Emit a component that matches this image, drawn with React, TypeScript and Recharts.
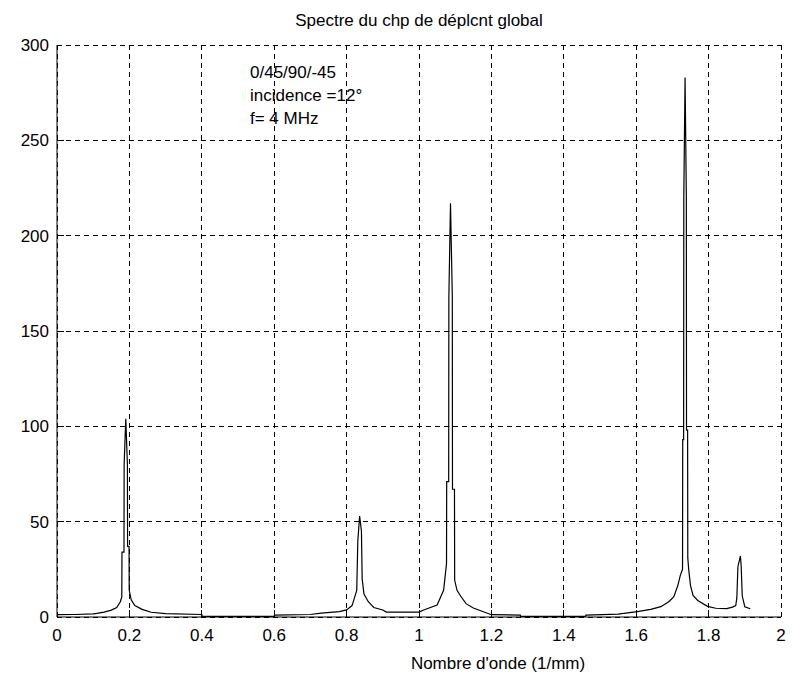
import React from 'react'
import {
  LineChart,
  Line,
  XAxis,
  YAxis,
  CartesianGrid
} from 'recharts'

// wave number (1/mm) and amplitude
const waveNumber = [
  0, 0.05, 0.1, 0.11, 0.13, 0.15, 0.165, 0.175, 0.179, 0.1795, 0.185, 0.1855, 0.19, 0.1945, 0.195,
  0.199, 0.1995, 0.205, 0.215, 0.235, 0.26, 0.3, 0.4, 0.401, 0.6, 0.601, 0.7, 0.73, 0.78, 0.8,
  0.815, 0.82, 0.828, 0.831, 0.836, 0.841, 0.843, 0.848, 0.86, 0.875, 0.9, 0.91, 1.0, 1.013, 1.05,
  1.068, 1.076, 1.0765, 1.082, 1.0825, 1.087, 1.092, 1.0925, 1.098, 1.0985, 1.105, 1.115, 1.13, 1.15, 1.2,
  1.28, 1.281, 1.46, 1.461, 1.55, 1.603, 1.64, 1.668, 1.69, 1.704, 1.715, 1.722, 1.728, 1.7285, 1.731,
  1.7315, 1.735, 1.7385, 1.739, 1.742, 1.7425, 1.745, 1.75, 1.757, 1.77, 1.797, 1.82, 1.85, 1.866, 1.875,
  1.878, 1.881, 1.888, 1.89, 1.893, 1.9, 1.915
]
const amplitude = [
  1.2, 1.3, 1.6, 1.9, 2.6, 3.6, 5, 8, 10.6, 34, 34, 80, 104, 80, 37,
  37, 14, 9, 6, 4, 2.5, 1.8, 1.3, 0.3, 0.3, 1.0, 1.3, 2, 2.8, 3.7,
  6, 9, 14, 40, 53, 45, 20, 12, 8, 5, 3.7, 2.6, 2.6, 3.7, 6.3,
  14, 28, 71, 71, 168, 217, 168, 67, 67, 19.4, 14, 11, 7, 4.7, 1.2,
  1.0, 0.3, 0.3, 1.0, 1.5, 2.8, 4, 5.4, 8, 10.6, 16.5, 22, 25, 93, 93,
  220, 283, 220, 98, 98, 31, 25, 16.5, 11.3, 8.7, 5.6, 4.6, 4.4, 5.2, 6,
  10, 26.5, 32, 26.5, 11, 5.4, 4.3
]

const xTicks = [0, 0.2, 0.4, 0.6, 0.8, 1, 1.2, 1.4, 1.6, 1.8, 2]
const yTicks = [0, 50, 100, 150, 200, 250, 300]
const notes = ['0/45/90/-45', 'incidence =12°', 'f= 4 MHz']

const data = waveNumber.map((k, i) => ({ k, amp: amplitude[i] }))

const font = '"Liberation Sans", Arial, sans-serif'
const TICK = 7

const BottomTick = (props: any) => {
  const { x, y, payload } = props
  const edge = payload.value === 0 || payload.value === 2
  return (
    <g>
      {!edge && <line x1={x} y1={y} x2={x} y2={y - TICK} stroke="#000" shapeRendering="crispEdges" />}
      <text x={x} y={y + 24} textAnchor="middle" fontSize={17} fontFamily={font} fill="#000">
        {payload.value}
      </text>
    </g>
  )
}

const TopTick = (props: any) => {
  const { x, y, payload } = props
  if (payload.value === 0 || payload.value === 2) return <g />
  return <line x1={x} y1={y} x2={x} y2={y + TICK} stroke="#000" shapeRendering="crispEdges" />
}

const LeftTick = (props: any) => {
  const { x, y, payload } = props
  const edge = payload.value === 0 || payload.value === 300
  return (
    <g>
      {!edge && <line x1={x} y1={y} x2={x + TICK} y2={y} stroke="#000" shapeRendering="crispEdges" />}
      <text x={x - 8} y={y + 6} textAnchor="end" fontSize={17} fontFamily={font} fill="#000">
        {payload.value}
      </text>
    </g>
  )
}

const RightTick = (props: any) => {
  const { x, y, payload } = props
  if (payload.value === 0 || payload.value === 300) return <g />
  return <line x1={x} y1={y} x2={x - TICK} y2={y} stroke="#000" shapeRendering="crispEdges" />
}

const App: React.FC = () => {
  return (
    <div style={{ position: 'absolute', left: 0, top: 0, background: '#fff' }}>
      <LineChart
        width={792}
        height={679}
        data={data}
        margin={{ top: 45, right: 11, bottom: 32, left: 0 }}
      >
        <CartesianGrid stroke="#000" strokeDasharray="5 4" shapeRendering="crispEdges" />
        <XAxis
          dataKey="k"
          type="number"
          domain={[0, 2]}
          ticks={xTicks}
          height={30}
          tickSize={0}
          tickMargin={0}
          stroke="#000"
          tick={BottomTick}
        />
        <XAxis
          xAxisId="top"
          orientation="top"
          type="number"
          domain={[0, 2]}
          ticks={xTicks}
          height={0}
          tickSize={0}
          tickMargin={0}
          stroke="#000"
          tick={TopTick}
        />
        <YAxis
          type="number"
          domain={[0, 300]}
          ticks={yTicks}
          width={57}
          tickSize={0}
          tickMargin={0}
          stroke="#000"
          tick={LeftTick}
        />
        <YAxis
          yAxisId="right"
          orientation="right"
          type="number"
          domain={[0, 300]}
          ticks={yTicks}
          width={0}
          tickSize={0}
          tickMargin={0}
          stroke="#000"
          tick={RightTick}
        />
        <Line
          dataKey="amp"
          type="linear"
          stroke="#000"
          strokeWidth={1.2}
          dot={false}
          isAnimationActive={false}
        />
        <text x={419} y={26} textAnchor="middle" fontSize={17} fontFamily={font} fill="#000">
          Spectre du chp de déplcnt global
        </text>
        <text x={498} y={669} textAnchor="middle" fontSize={17} fontFamily={font} fill="#000">
          Nombre d'onde (1/mm)
        </text>
        {notes.map((n, i) => (
          <text key={n} x={250} y={78 + i * 23} fontSize={17} fontFamily={font} fill="#000">
            {n}
          </text>
        ))}
      </LineChart>
    </div>
  )
}

export default App
